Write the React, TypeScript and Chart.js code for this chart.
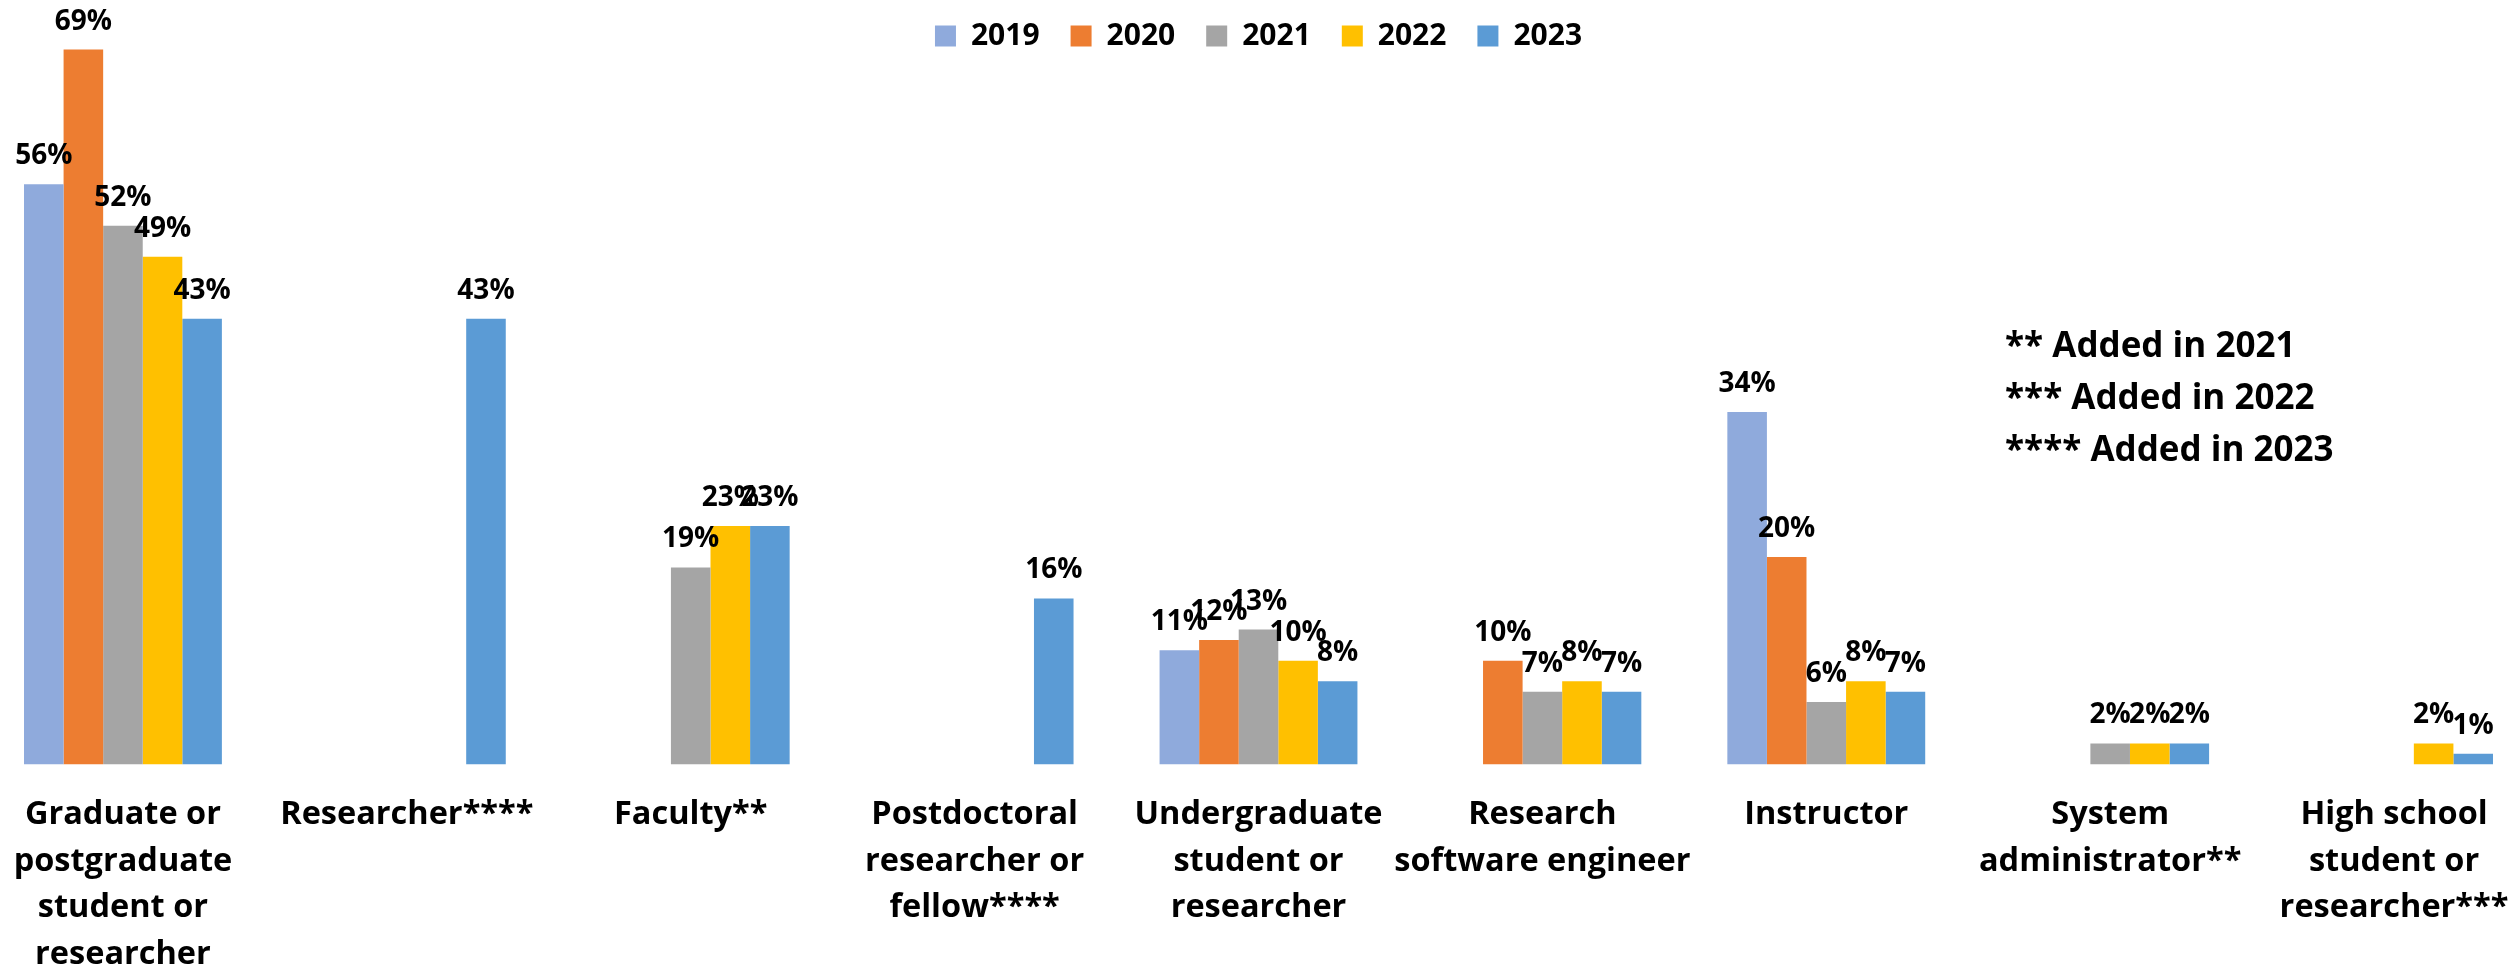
import React, { useEffect, useRef } from "react";
import { Chart, registerables } from "chart.js";

Chart.register(...registerables);

const categories: string[][] = [
  ["Graduate or", "postgraduate", "student or", "researcher"],
  ["Researcher****"],
  ["Faculty**"],
  ["Postdoctoral", "researcher or", "fellow****"],
  ["Undergraduate", "student or", "researcher"],
  ["Research", "software engineer"],
  ["Instructor"],
  ["System", "administrator**"],
  ["High school", "student or", "researcher***"],
];

const years = ["2019", "2020", "2021", "2022", "2023"];
const values2019 = [56, null, null, null, 11, null, 34, null, null];
const values2020 = [69, null, null, null, 12, 10, 20, null, null];
const values2021 = [52, null, 19, null, 13, 7, 6, 2, null];
const values2022 = [49, null, 23, null, 10, 8, 8, 2, 2];
const values2023 = [43, 43, 23, 16, 8, 7, 7, 2, 1];
const seriesValues = [values2019, values2020, values2021, values2022, values2023];
const colors = ["#8FAADC", "#ED7D31", "#A5A5A5", "#FFC000", "#5B9BD5"];
const notes = ["** Added in 2021", "*** Added in 2022", "**** Added in 2023"];

const FONT = "'Open Sans'";
const Y_MAX = 67.9;

export default function App() {
  const ref = useRef<HTMLCanvasElement>(null);

  useEffect(() => {
    if (!ref.current) return;

    const valueLabels = {
      id: "valueLabels",
      afterDatasetsDraw(chart: any) {
        const ctx = chart.ctx;
        ctx.save();
        ctx.font = `bold 28px ${FONT}`;
        ctx.fillStyle = "#000";
        ctx.textAlign = "center";
        ctx.textBaseline = "alphabetic";
        chart.data.datasets.forEach((ds: any, i: number) => {
          const meta = chart.getDatasetMeta(i);
          meta.data.forEach((bar: any, j: number) => {
            const v = ds.data[j];
            if (v == null) return;
            ctx.fillText(`${v}%`, bar.x, bar.y - 20);
          });
        });
        ctx.restore();
      },
    };

    const notesPlugin = {
      id: "notes",
      afterDraw(chart: any) {
        const ctx = chart.ctx;
        ctx.save();
        ctx.font = `bold 35px ${FONT}`;
        ctx.fillStyle = "#000";
        ctx.textAlign = "left";
        ctx.textBaseline = "alphabetic";
        notes.forEach((t, i) => ctx.fillText(t, 2024, 367 + i * 52));
        ctx.restore();
      },
    };

    const chart = new Chart(ref.current, {
      type: "bar",
      data: {
        labels: categories,
        datasets: years.map((y, i) => ({
          label: y,
          data: seriesValues[i],
          backgroundColor: colors[i],
          borderWidth: 0,
          barPercentage: 1,
          categoryPercentage: 0.697,
          clip: false as any,
        })),
      },
      options: {
        responsive: false,
        animation: false,
        events: [],
        layout: { padding: 0 },
        plugins: {
          legend: {
            position: "top",
            labels: {
              font: { family: FONT, size: 30, weight: "bold" },
              color: "#000",
              boxWidth: 21,
              boxHeight: 21,
              padding: 31,
            },
          },
          tooltip: { enabled: false },
        },
        scales: {
          x: {
            grid: { display: false, drawTicks: false },
            border: { display: false },
            ticks: {
              autoSkip: false,
              maxRotation: 0,
              minRotation: 0,
              padding: 27,
              color: "#000",
              font: { family: FONT, size: 32.5, weight: "bold", lineHeight: 1.437 },
            },
          },
          y: {
            display: false,
            min: 0,
            max: Y_MAX,
          },
        },
      },
      plugins: [valueLabels, notesPlugin],
    });

    return () => chart.destroy();
  }, []);

  return (
    <div
      style={{
        position: "absolute",
        left: 0,
        top: 0,
        width: 2509,
        height: 964,
        overflow: "hidden",
        background: "#fff",
      }}
    >
      <div style={{ position: "absolute", left: -19, top: -10 }}>
        <canvas ref={ref} width={2555} height={1015} style={{ display: "block" }} />
      </div>
    </div>
  );
}
